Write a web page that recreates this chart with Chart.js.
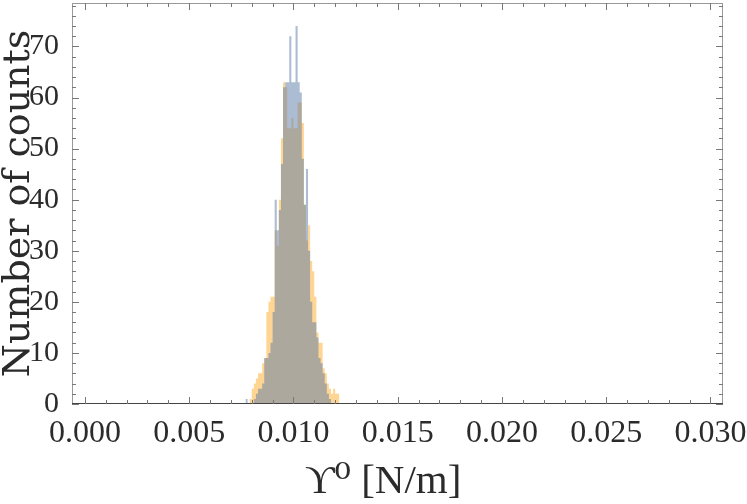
<!DOCTYPE html>
<html>
<head>
<meta charset="utf-8">
<script src="https://cdn.jsdelivr.net/npm/chart.js@4/dist/chart.umd.min.js"></script>
<style>
  html, body { margin: 0; padding: 0; background: #fff; }
</style>
</head>
<body>
<canvas id="histChart" width="747" height="504"></canvas>
<script>
// Histogram bins (left edge of each 0.0001 wide bin)
const binStarts = [
  0.0077, 0.0078, 0.0079, 0.0080, 0.0081, 0.0082, 0.0083, 0.0084, 0.0085, 0.0086,
  0.0087, 0.0088, 0.0089, 0.0090, 0.0091, 0.0092, 0.0093, 0.0094, 0.0095, 0.0096,
  0.0097, 0.0098, 0.0099, 0.0100, 0.0101, 0.0102, 0.0103, 0.0104, 0.0105, 0.0106,
  0.0107, 0.0108, 0.0109, 0.0110, 0.0111, 0.0112, 0.0113, 0.0114, 0.0115, 0.0116,
  0.0117, 0.0118, 0.0119, 0.0120, 0.0121
];
const binWidth = 0.0001;

// Counts, blue series
const countsBlue = [
  1, 0, 0, 0, 1, 2, 3, 3, 4, 9,
  9, 10, 12, 18, 40, 34, 38, 47, 62, 63,
  63, 72, 63, 63, 74, 63, 61, 48, 39, 46,
  30, 20, 16, 16, 13, 9, 8, 6, 4, 2,
  1, 0, 0, 0, 0
];

// Counts, orange series
const countsOrange = [
  0, 0, 1, 3, 4, 5, 6, 6, 8, 9,
  18, 20, 21, 21, 34, 31, 40, 52, 63, 62,
  54, 54, 56, 54, 54, 59, 59, 55, 39, 32,
  35, 28, 26, 21, 14, 12, 12, 7, 6, 4,
  3, 2, 3, 2, 2
];

// Axis ticks
const xTickValues = [0.000, 0.005, 0.010, 0.015, 0.020, 0.025, 0.030];
const yTickValues = [0, 10, 20, 30, 40, 50, 60, 70];

const serif = "'Liberation Serif', 'DejaVu Serif', serif";
const textColor = '#2b2b2b';

// step outline: one point per bin left edge, closed at the right edge of the last bin
function toSteps(counts) {
  const pts = binStarts.map((b, i) => ({ x: b, y: counts[i] }));
  pts.push({ x: binStarts[binStarts.length - 1] + binWidth, y: 0 });
  return pts;
}

// frame with inward ticks on all four sides
const framePlugin = {
  id: 'frame',
  afterDatasetsDraw(chart) {
    const { ctx, chartArea: a, scales } = chart;
    const x = scales.x, y = scales.y;
    ctx.save();
    ctx.lineWidth = 1;
    ctx.strokeStyle = '#999';
    ctx.strokeRect(a.left + 0.5, a.top + 0.5, a.right - a.left - 1, a.bottom - a.top - 1);
    ctx.strokeStyle = '#444';
    ctx.beginPath();
    ctx.moveTo(a.left, a.bottom - 0.5);
    ctx.lineTo(a.right, a.bottom - 0.5);
    ctx.stroke();

    ctx.strokeStyle = '#777';
    ctx.beginPath();
    for (let i = 0; i <= 30; i++) {
      const v = i * 0.001;
      const len = i % 5 === 0 ? 7 : 4;
      const px = Math.round(x.getPixelForValue(v)) + 0.5;
      ctx.moveTo(px, a.bottom);
      ctx.lineTo(px, a.bottom - len);
      ctx.moveTo(px, a.top);
      ctx.lineTo(px, a.top + len);
    }
    for (let v = 0; v <= 78; v += 2) {
      const len = v % 10 === 0 ? 7 : 4;
      const py = Math.round(y.getPixelForValue(v)) + 0.5;
      ctx.moveTo(a.left, py);
      ctx.lineTo(a.left + len, py);
      ctx.moveTo(a.right, py);
      ctx.lineTo(a.right - len, py);
    }
    ctx.stroke();
    ctx.restore();
  }
};

const ctx = document.getElementById('histChart').getContext('2d');
const histChart = new Chart(ctx, {
  type: 'line',
  data: {
    datasets: [
      {
        label: 'blue',
        data: toSteps(countsBlue),
        stepped: 'before',
        fill: 'origin',
        backgroundColor: 'rgba(89,123,168,0.5)',
        borderWidth: 0,
        pointRadius: 0
      },
      {
        label: 'orange',
        data: toSteps(countsOrange),
        stepped: 'before',
        fill: 'origin',
        backgroundColor: 'rgba(255,190,90,0.65)',
        borderWidth: 0,
        pointRadius: 0
      }
    ]
  },
  options: {
    responsive: false,
    animation: false,
    devicePixelRatio: 1,
    layout: { padding: { top: 3, right: 24, left: 0, bottom: 0 } },
    plugins: {
      legend: { display: false },
      tooltip: { enabled: false }
    },
    scales: {
      x: {
        type: 'linear',
        min: -0.00062,
        max: 0.0306,
        grid: { display: false },
        border: { display: false },
        afterBuildTicks: (s) => { s.ticks = xTickValues.map(v => ({ value: v })); },
        afterFit: (s) => { s.height = 100; s.paddingLeft = 0; s.paddingRight = 0; },
        ticks: {
          autoSkip: false,
          maxRotation: 0,
          padding: 2,
          color: textColor,
          font: { family: serif, size: 32 },
          callback: (v) => Number(v).toFixed(3)
        },
        title: {
          display: true,
          text: 'ϒ⁰ [N/m]\u2002\u2009',
          color: textColor,
          font: { family: serif, size: 41, lineHeight: 1 },
          padding: { top: 0, bottom: 1 }
        }
      },
      y: {
        min: 0,
        max: 78.5,
        grid: { display: false },
        border: { display: false },
        afterBuildTicks: (s) => { s.ticks = yTickValues.map(v => ({ value: v })); },
        afterFit: (s) => { s.width = 72; s.paddingTop = 0; s.paddingBottom = 0; },
        ticks: {
          autoSkip: false,
          padding: 5,
          color: textColor,
          font: { family: serif, size: 30 }
        },
        title: {
          display: true,
          text: 'Number of counts',
          color: textColor,
          font: { family: "'DejaVu Serif', serif", size: 38, lineHeight: 1 },
          padding: { top: 0, bottom: 0 }
        }
      }
    }
  },
  plugins: [framePlugin]
});
</script>
</body>
</html>
